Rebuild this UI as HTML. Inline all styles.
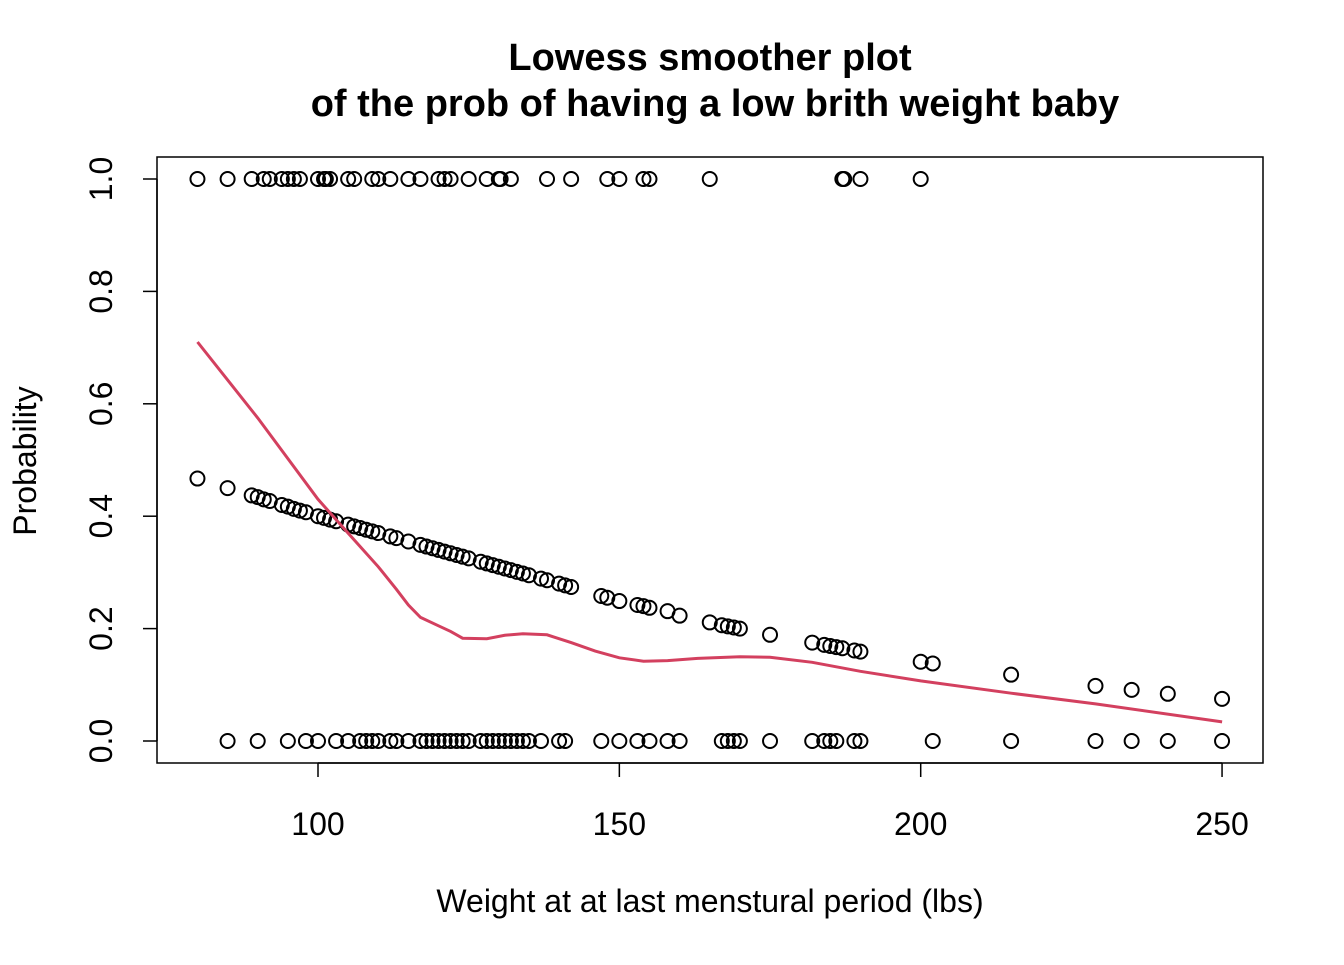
<!DOCTYPE html>
<html><head><meta charset="utf-8"><style>
html,body{margin:0;padding:0;background:#fff}
svg text{font-family:"Liberation Sans",Arial,sans-serif;fill:#000}
</style></head><body>
<svg width="1344" height="960" viewBox="0 0 1344 960" xmlns="http://www.w3.org/2000/svg">
<text x="710" y="70" font-size="38" font-weight="bold" text-anchor="middle">Lowess smoother plot</text>
<text x="715" y="116" font-size="38" font-weight="bold" text-anchor="middle">of the prob of having a low brith weight baby</text>
<rect x="157" y="157" width="1106" height="606" fill="none" stroke="#000" stroke-width="1.5"/>
<g id="xaxis"></g>
<g id="yaxis"></g>
<text x="710" y="912" font-size="32" text-anchor="middle">Weight at at last menstural period (lbs)</text>
<text transform="translate(36,461) rotate(-90)" font-size="32" text-anchor="middle">Probability</text>
<g id="points"></g>
<g id="fitted"></g>
<path id="lowess" fill="none" stroke="#D3405F" stroke-width="3"/>
</svg>
<script>
const obsOne=[80,85,89,91,92,94,95,96,97,100,101,101.3,102,105,106,109,110,112,115,117,120,121,122,125,128,130,130.3,132,138,142,148,150,154,155,165,187,187.3,190,200];
const obsZero=[85,90,95,98,100,103,105,107,108,109,110,112,113,115,117,118,119,120,121,122,123,124,125,127,128,129,130,131,132,133,134,135,137,140,141,147,150,153,155,158,160,167,168,169,170,175,182,184,185,186,189,190,202,215,229,235,241,250];
const fitW=[80,85,89,90,91,92,94,95,96,97,98,100,101,102,103,105,106,107,108,109,110,112,113,115,117,118,119,120,121,122,123,124,125,127,128,129,130,131,132,133,134,135,137,138,140,141,142,147,148,150,153,154,155,158,160,165,167,168,169,170,175,182,184,185,186,187,189,190,200,202,215,229,235,241,250];
const fitP=[.467,.450,.437,.434,.430,.427,.420,.417,.413,.410,.407,.400,.397,.394,.391,.385,.382,.379,.376,.373,.370,.364,.361,.355,.349,.346,.343,.340,.337,.334,.331,.328,.325,.319,.316,.313,.310,.307,.304,.301,.298,.295,.289,.286,.280,.277,.274,.258,.255,.249,.242,.240,.237,.231,.223,.211,.206,.204,.202,.200,.189,.175,.171,.169,.167,.165,.161,.159,.141,.138,.118,.098,.091,.084,.075];
const lowW=[80,90,100,105,110,113,115,117,120,122,124,128,131,134,138,142,146,150,154,158,163,170,175,182,190,200,215,229,250];
const lowP=[.71,.575,.43,.37,.31,.27,.242,.22,.205,.195,.183,.182,.188,.191,.189,.175,.16,.148,.142,.143,.147,.150,.149,.140,.124,.107,.085,.066,.034];
const xTicks=[100,150,200,250];
const yTicks=[0,0.2,0.4,0.6,0.8,1.0];
const yTickLabels=["0.0","0.2","0.4","0.6","0.8","1.0"];
const X=w=>318+(w-100)*6.027;
const Y=p=>741-p*562;
const NS="http://www.w3.org/2000/svg";
function mk(tag,attrs,parent){const e=document.createElementNS(NS,tag);for(const k in attrs)e.setAttribute(k,attrs[k]);parent.appendChild(e);return e;}
const xa=document.getElementById('xaxis');
mk('line',{x1:X(100),x2:X(250),y1:763,y2:763,stroke:'#000','stroke-width':1.5},xa);
xTicks.forEach(t=>{
 const l=mk('line',{x1:X(t),x2:X(t),y1:763,y2:777,stroke:'#000','stroke-width':1.5},xa);
 
 
 const tx=mk('text',{x:X(t),y:835,'font-size':32,'text-anchor':'middle'},xa);tx.textContent=t;
 
 
});
const ya=document.getElementById('yaxis');
mk('line',{x1:157,x2:157,y1:Y(0),y2:Y(1),stroke:'#000','stroke-width':1.5},ya);
yTicks.forEach((t,i)=>{
 const l=mk('line',{x1:143,x2:157,y1:Y(t),y2:Y(t),stroke:'#000','stroke-width':1.5},ya);
 
 
 const tx=mk('text',{transform:`translate(112,${Y(t)}) rotate(-90)`,'font-size':32,'text-anchor':'middle'},ya);tx.textContent=yTickLabels[i];
 
 
});
const pg=document.getElementById('points');
obsOne.forEach(w=>{const c=mk('circle',{cx:X(w),cy:Y(1),r:7,fill:'none',stroke:'#000','stroke-width':2},pg);
 
 });
obsZero.forEach(w=>{const c=mk('circle',{cx:X(w),cy:Y(0),r:7,fill:'none',stroke:'#000','stroke-width':2},pg);
 
 });
const fg=document.getElementById('fitted');
fitW.forEach((w,i)=>{const c=mk('circle',{cx:X(w),cy:Y(fitP[i]),r:7,fill:'none',stroke:'#000','stroke-width':2},fg);
 
 });
document.getElementById('lowess').setAttribute('d',lowW.map((w,i)=>(i?'L':'M')+X(w).toFixed(1)+','+Y(lowP[i]).toFixed(1)).join(''));
</script>
</body></html>
